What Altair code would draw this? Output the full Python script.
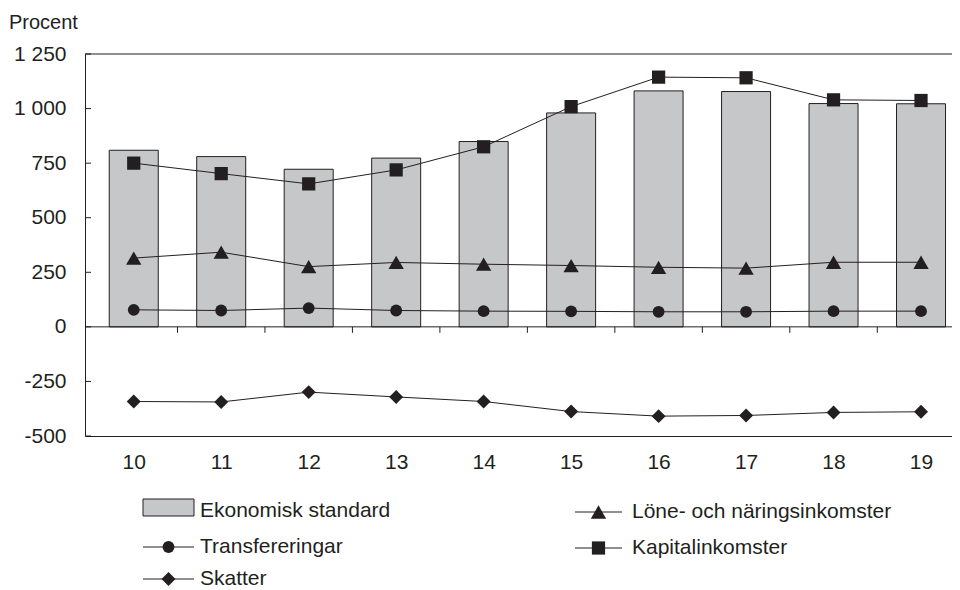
import altair as alt
import pandas as pd

# ---- data ----
years = [10, 11, 12, 13, 14, 15, 16, 17, 18, 19]
ekonomisk_standard = [809, 780, 722, 773, 849, 980, 1081, 1078, 1023, 1022]
lone_naring = [315, 342, 276, 295, 287, 281, 273, 269, 296, 296]
transfereringar = [78, 75, 86, 75, 72, 71, 69, 69, 72, 72]
kapitalinkomster = [750, 702, 655, 719, 825, 1009, 1144, 1141, 1040, 1037]
skatter = [-342, -344, -299, -321, -342, -388, -409, -406, -392, -389]

y_tick_values = [-500, -250, 0, 250, 500, 750, 1000, 1250]
x_tick_values = years
separator_positions = [10.5, 11.5, 12.5, 13.5, 14.5, 15.5, 16.5, 17.5, 18.5]

FONT = "Liberation Sans"
FS = 21
INK = "#231f20"
BAR_FILL = "#c6c7c9"

W, H = 867, 382

rows = []
for name, vals in [("Ekonomisk standard", ekonomisk_standard),
                   ("Löne- och näringsinkomster", lone_naring),
                   ("Transfereringar", transfereringar),
                   ("Kapitalinkomster", kapitalinkomster),
                   ("Skatter", skatter)]:
    for yr, v in zip(years, vals):
        rows.append({"year": yr, "series": name, "value": v})
df = pd.DataFrame(rows)

xscale = alt.Scale(domain=[9.5, 19.297], nice=False, zero=False)
yscale = alt.Scale(domain=[-500, 1250], nice=False, zero=False)
xaxis = alt.Axis(values=x_tick_values, format="d", ticks=False, tickSize=0, grid=False,
                 title=None, labelFont=FONT, labelFontSize=FS, labelColor=INK,
                 labelBaseline="middle", labelPadding=26, domainColor=INK, domainWidth=1)
yaxis = alt.Axis(values=y_tick_values, ticks=False, tickSize=0, grid=False, title=None,
                 labelFont=FONT, labelFontSize=FS, labelColor=INK, labelPadding=19,
                 domainColor=INK, domainWidth=1,
                 labelExpr="abs(datum.value) >= 1000 ? floor(datum.value/1000) + ' ' + format(datum.value % 1000, '03') : '' + datum.value")

X = alt.X("year:Q", scale=xscale, axis=xaxis)
Y = alt.Y("value:Q", scale=yscale, axis=yaxis)

base = alt.Chart(df)

bars = base.transform_filter(alt.datum.series == "Ekonomisk standard").mark_bar(
    size=49, fill=BAR_FILL, stroke=INK, strokeWidth=1).encode(x=X, y=Y)

series_shapes = [("Löne- och näringsinkomster", "triangle-up", 235),
                 ("Transfereringar", "circle", 140),
                 ("Kapitalinkomster", "square", 175),
                 ("Skatter", "diamond", 195)]

layers = [bars]
for name, shape, size in series_shapes:
    s = base.transform_filter(alt.datum.series == name)
    layers.append(s.mark_line(color=INK, strokeWidth=1).encode(x=X, y=Y))
    layers.append(s.mark_point(shape=shape, size=size, filled=True, color=INK, opacity=1)
                  .encode(x=X, y=Y))

# frame lines
one = pd.DataFrame({"k": [0]})
top_line = alt.Chart(one).mark_rule(color=INK, strokeWidth=1).encode(
    y=alt.Y(datum=1250, scale=yscale, axis=yaxis), x=alt.value(0), x2=alt.value(W + 10))
zero_line = alt.Chart(one).mark_rule(color=INK, strokeWidth=1).encode(
    y=alt.Y(datum=0, scale=yscale, axis=yaxis), x=alt.value(0), x2=alt.value(W + 10))

sep_df = pd.DataFrame({"year": separator_positions})
sep_ticks = alt.Chart(sep_df).mark_rule(color=INK, strokeWidth=1, y2Offset=6).encode(
    x=X, y=alt.Y(datum=0, scale=yscale, axis=yaxis), y2=alt.Y2(datum=0))

yt_df = pd.DataFrame({"value": y_tick_values})
y_ticks = alt.Chart(yt_df).mark_rule(color=INK, strokeWidth=1).encode(
    y=Y, x=alt.value(0), x2=alt.value(6))

# "Procent" label
procent = alt.Chart(one).mark_text(text="Procent", font=FONT, fontSize=20, color=INK,
                                   align="left", baseline="middle").encode(
    x=alt.value(-76), y=alt.value(-31))

# manual legend (positions relative to plot origin)
def lg_text(txt, x, y):
    return alt.Chart(one).mark_text(text=txt, font=FONT, fontSize=FS, color=INK,
                                    align="left", baseline="middle").encode(
        x=alt.value(x), y=alt.value(y))

def lg_line(x0, x1, y, shape, size):
    ln = alt.Chart(one).mark_rule(color=INK, strokeWidth=1).encode(
        x=alt.value(x0), x2=alt.value(x1), y=alt.value(y))
    pt = alt.Chart(one).mark_point(shape=shape, size=size, filled=True, color=INK,
                                   opacity=1).encode(
        x=alt.value((x0 + x1) / 2), y=alt.value(y))
    return [ln, pt]

legend = []
legend.append(alt.Chart(one).mark_rect(fill=BAR_FILL, stroke=INK, strokeWidth=1).encode(
    x=alt.value(58), x2=alt.value(109), y=alt.value(445), y2=alt.value(462)))
legend.append(lg_text("Ekonomisk standard", 115, 457))
legend += lg_line(58, 109, 493, "circle", 140)
legend.append(lg_text("Transfereringar", 115, 493))
legend += lg_line(58, 109, 525, "diamond", 195)
legend.append(lg_text("Skatter", 115, 525))
legend += lg_line(490, 537, 458, "triangle-up", 235)
legend.append(lg_text("Löne- och näringsinkomster", 547, 458))
legend += lg_line(490, 537, 494, "square", 175)
legend.append(lg_text("Kapitalinkomster", 547, 494))

chart = alt.layer(*layers, top_line, zero_line, sep_ticks, y_ticks, procent, *legend).properties(
    width=W, height=H,
    autosize=alt.AutoSizeParams(type="none"),
    padding={"left": 77, "top": 46, "right": 0, "bottom": 154},
    background="white",
).configure_view(stroke=None)

chart.save("out.html", embed_options={"renderer": "svg", "actions": False})
